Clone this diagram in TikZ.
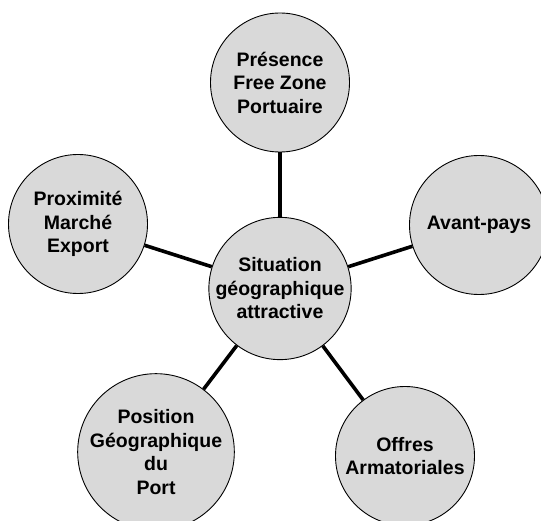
\documentclass[tikz,border=0pt]{standalone}
\usepackage{fontspec}
\setmainfont{Liberation Sans}
\definecolor{bubblefill}{RGB}{217,217,217}
\begin{document}
\begin{tikzpicture}[x=1pt,y=-1pt,
  bubble/.style={circle,draw=black,line width=0.9pt,fill=bubblefill,minimum size=139pt,inner sep=0pt,
    align=center,font=\fontsize{19.5}{23.5}\selectfont\bfseries},
  link/.style={line width=3.6pt,draw=black}]
\useasboundingbox (0,0) rectangle (541,521);
\clip (0,0) rectangle (541,521);
\node[bubble] (c) at (280,288.5) {Situation\\géographique\\attractive};
\node[bubble] (t) at (280,82.5) {Présence\\Free Zone\\Portuaire};
\node[bubble] (l) at (78,224) {Proximité\\Marché\\Export};
\node[bubble] (r) at (479,225) {Avant-pays};
\node[bubble] (bl) at (156,452) {Position\\Géographique\\du\\Port};
\node[bubble] (br) at (405,456) {Offres\\Armatoriales};
\draw[link] (c) -- (t);
\draw[link] (c) -- (l);
\draw[link] (c) -- (r);
\draw[link] (c) -- (bl);
\draw[link] (c) -- (br);
\end{tikzpicture}
\end{document}
